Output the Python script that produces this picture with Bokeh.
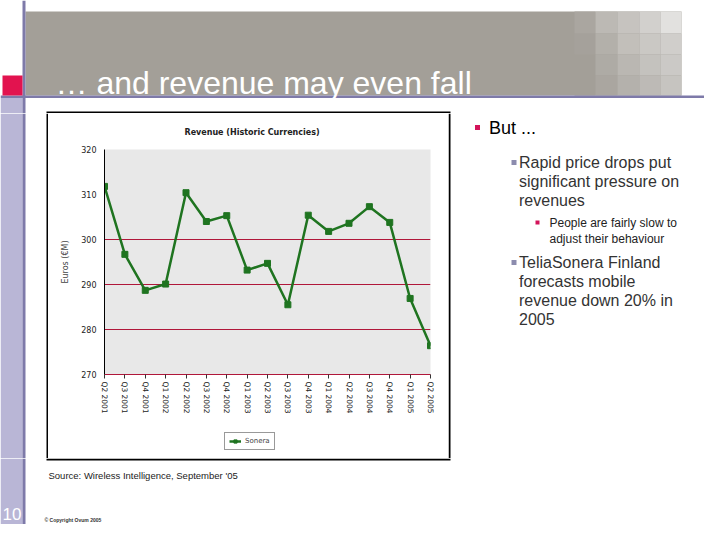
from bokeh.plotting import figure
from bokeh.layouts import column, row
from bokeh.models import (Range1d, FixedTicker, ColumnDataSource, Legend, LegendItem)
from bokeh.core.properties import value
from bokeh.embed import file_html
from bokeh.resources import INLINE

# ---------------- data ----------------
quarters = ["Q2 2001", "Q3 2001", "Q4 2001", "Q1 2002", "Q2 2002", "Q3 2002",
            "Q4 2002", "Q1 2003", "Q2 2003", "Q3 2003", "Q4 2003", "Q1 2004",
            "Q2 2004", "Q3 2004", "Q4 2004", "Q1 2005", "Q2 2005"]
revenue = [311.8, 296.7, 288.7, 290.1, 310.4, 304.0, 305.3, 293.2, 294.7,
           285.5, 305.4, 301.8, 303.6, 307.3, 303.8, 286.9, 276.4]
y_ticks = [270, 280, 290, 300, 310, 320]
red_grid = [280, 290, 300]
series_name = "Sonera"
chart_title = "Revenue (Historic Currencies)"
y_label = "Euros (\u20acM)"

slide_title = "\u2026 and revenue may even fall"
bullet_l1 = "But ..."
bullet_a = ["Rapid price drops put", "significant pressure on", "revenues"]
bullet_a_sub = ["People are fairly slow to", "adjust their behaviour"]
bullet_b = ["TeliaSonera Finland", "forecasts mobile", "revenue down 20% in", "2005"]
source_text = "Source: Wireless Intelligence, September '05"
page_number = "10"
copyright_text = "\u00a9 Copyright Ovum 2005"

# ---------------- colours ----------------
LAV = "#b9b6d6"
PURPLE = "#7e7aa9"
RED = "#e2134f"
BAND = "#a39f98"
PINK = "#d3145a"
GRAYB = "#8c8cae"
GREEN = "#1f7420"
GRID_RED = "#b0173a"
FONT = value("Liberation Sans")


def deco_fig(x0, x1, y0, y1):
    p = figure(width=x1 - x0, height=y1 - y0,
               x_range=Range1d(x0, x1), y_range=Range1d(y1, y0),
               x_axis_location=None, y_axis_location=None,
               min_border=0, outline_line_color=None,
               background_fill_color="white", border_fill_color="white",
               output_backend="svg", toolbar_location=None)
    p.grid.grid_line_color = None
    return p


def box(p, l, r, t, b, color):
    p.quad(left=l, right=r, top=t, bottom=b, fill_color=color, line_color=None)


# ---------------- header ----------------
hdr = deco_fig(8, 712, 8, 121)
box(hdr, 33, 689, 19, 103, BAND)
shades = [
    ["#aaa6a0", "#bcb9b4", "#c6c3bf", "#d2d0cd", "#e2e1df"],
    ["#a5a19b", "#b3b0aa", "#c2bfba", "#cac8c4", "#d0cecb"],
    [BAND, "#aeaba5", "#bab7b2", "#c4c2be", "#cbc9c6"],
    [BAND, "#aaa6a0", "#b4b1ac", "#bdbab6", "#c6c4c0"],
]
cols = [582, 603, 625, 647, 668, 689]
rows_ = [19, 41, 62, 83, 103]
for ri in range(4):
    for ci in range(5):
        box(hdr, cols[ci], cols[ci + 1], rows_[ri], rows_[ri + 1], shades[ri][ci])
box(hdr, 8, 720, 103, 105.5, PURPLE)
box(hdr, 8, 30, 105.5, 121, LAV)
box(hdr, 30, 33, 8, 121, PURPLE)
box(hdr, 10, 30, 83, 103, RED)
box(hdr, 54, 458, 119, 121, "black")
hdr.text(x=[63], y=[90], text=[slide_title], text_color="white",
         text_font=FONT, text_font_size="32px", text_baseline="alphabetic",
         text_align="left")

# ---------------- left strip ----------------
lft = deco_fig(8, 56, 121, 466)
box(lft, 8, 30, 121, 466, LAV)
box(lft, 30, 33, 121, 466, PURPLE)
box(lft, 54, 56, 121, 466, "black")

# ---------------- chart ----------------
src = ColumnDataSource(dict(idx=list(range(len(quarters))), revenue=revenue))
ch = figure(width=400, height=311,
            x_range=Range1d(0, len(quarters) - 1),
            y_range=Range1d(y_ticks[0], y_ticks[-1]),
            min_border_left=56, min_border_right=18,
            min_border_top=36, min_border_bottom=50,
            background_fill_color="#e8e8e8", border_fill_color="white",
            outline_line_color=None, output_backend="svg",
            toolbar_location=None, title=chart_title)
ch.title.align = "left"
ch.title.offset = 80
ch.title.standoff = 25
ch.title.text_font = "DejaVu Sans"
ch.title.text_font_size = "8px"
ch.title.text_font_style = "bold"
ch.title.text_color = "#222222"

ch.yaxis.ticker = FixedTicker(ticks=y_ticks)
ch.yaxis.major_label_text_font = "DejaVu Sans"
ch.yaxis.major_label_text_font_size = "8px"
ch.yaxis.major_label_text_color = "#222222"
ch.yaxis.major_tick_line_color = None
ch.yaxis.minor_tick_line_color = None
ch.yaxis.major_label_standoff = 2
ch.yaxis.axis_line_color = "black"
ch.yaxis.axis_label = y_label
ch.yaxis.axis_label_text_font = "DejaVu Sans"
ch.yaxis.axis_label_text_font_size = "8px"
ch.yaxis.axis_label_text_font_style = "normal"
ch.yaxis.axis_label_standoff = 8

ch.xaxis.ticker = FixedTicker(ticks=list(range(len(quarters))))
ch.xaxis.major_label_overrides = {i: q for i, q in enumerate(quarters)}
ch.xaxis.major_label_orientation = "vertical"
ch.xaxis.major_label_text_font = "DejaVu Sans"
ch.xaxis.major_label_text_font_size = "7.5px"
ch.xaxis.major_label_text_color = "#222222"
ch.xaxis.major_tick_out = 4
ch.xaxis.major_tick_in = 0
ch.xaxis.major_tick_line_color = "#333333"
ch.xaxis.minor_tick_line_color = None
ch.xaxis.major_label_standoff = 3
ch.xaxis.axis_line_color = GRID_RED

ch.xgrid.grid_line_color = None
ch.ygrid.ticker = FixedTicker(ticks=red_grid)
ch.ygrid.grid_line_color = GRID_RED
ch.ygrid.grid_line_width = 1.2

ch.line(x="idx", y="revenue", source=src, line_color=GREEN, line_width=2.5)
ch.scatter(x="idx", y="revenue", source=src, marker="square", size=6,
           fill_color=GREEN, line_color=GREEN)

# ---------------- legend strip (below chart) ----------------
lg = deco_fig(56, 456, 432, 466)
# off-screen sample so the legend can draw its swatch
swatch = ColumnDataSource(dict(x=[0, 1], y=[0, 0]))
lg_ln = lg.line(x="x", y="y", source=swatch, line_color=GREEN, line_width=2.5)
lg_mk = lg.scatter(x="x", y="y", source=swatch, marker="square", size=6,
                   fill_color=GREEN, line_color=GREEN)
leg = Legend(items=[LegendItem(label=series_name, renderers=[lg_ln, lg_mk])],
             location=(176, 8), orientation="horizontal",
             label_text_font="DejaVu Sans", label_text_font_size="7px",
             glyph_width=12, glyph_height=8, label_height=8, label_standoff=4,
             padding=4, margin=0, spacing=0,
             border_line_color="#333333", border_line_width=1,
             background_fill_color="white", background_fill_alpha=1.0)
lg.add_layout(leg, "center")

# ---------------- right text ----------------
rt = deco_fig(456, 712, 121, 466)
box(rt, 456, 458, 121, 466, "black")
rt.scatter(x=[485], y=[135], marker="square", size=5, fill_color=PINK, line_color=None)
rt.text(x=[496.5], y=[135], text=[bullet_l1], text_color="black", text_font=FONT,
        text_font_size="18px", text_baseline="middle", text_align="left")

rt.scatter(x=[521.5, 521.5], y=[170, 270], marker="square", size=5,
           fill_color=GRAYB, line_color=None)
rt.text(x=[526.5] * 3, y=[170, 188.5, 207.5], text=bullet_a, text_color="#333333",
        text_font=FONT, text_font_size="16px", text_baseline="middle", text_align="left")
rt.scatter(x=[545], y=[230], marker="square", size=4, fill_color=PINK, line_color=None)
rt.text(x=[557] * 2, y=[230, 246], text=bullet_a_sub, text_color="#222222",
        text_font=FONT, text_font_size="12px", text_baseline="middle", text_align="left")
rt.text(x=[526.5] * 4, y=[270, 288.5, 307.5, 326.5], text=bullet_b, text_color="#333333",
        text_font=FONT, text_font_size="16px", text_baseline="middle", text_align="left")

# ---------------- footer ----------------
ft = deco_fig(8, 712, 466, 532)
box(ft, 8, 30, 466, 532, LAV)
box(ft, 30, 33, 466, 532, PURPLE)
box(ft, 54, 458, 466, 468, "black")
ft.text(x=[56], y=[483], text=[source_text], text_color="#222222", text_font=FONT,
        text_font_size="9.5px", text_baseline="middle", text_align="left")
ft.text(x=[10], y=[521], text=[page_number], text_color="white", text_font=FONT,
        text_font_size="17px", text_baseline="middle", text_align="left")
ft.text(x=[52], y=[527], text=[copyright_text], text_color="#333333", text_font=FONT,
        text_font_size="5px", text_font_style="bold", text_baseline="middle", text_align="left")

layout = column(hdr, row(column(lft), column(ch, column(lg)), column(rt)), ft)
open("out.html", "w").write(file_html(layout, INLINE))
